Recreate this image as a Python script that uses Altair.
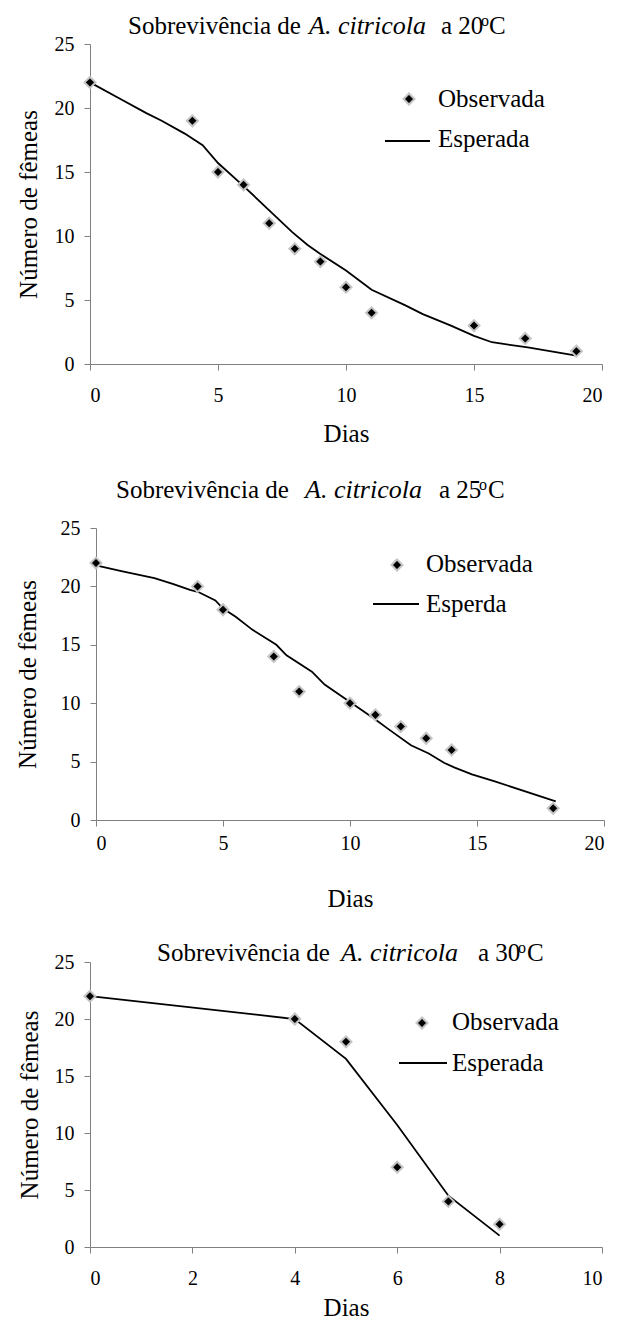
import altair as alt
import pandas as pd

FONT = "Liberation Serif"
HALO = "#c4c4c4"
AXIS_GRAY = "#808080"

# ---------------- data ----------------
# 20 °C
obs20_dias = [0, 4, 5, 6, 7, 8, 9, 10, 11, 15, 17, 19]
obs20_femeas = [22, 19, 15, 14, 11, 9, 8, 6, 4, 3, 2, 1]
esp20_dias = [0, 1.1, 2.2, 2.8, 3.7, 4.4, 5.0, 6.0, 7.0, 7.9, 8.5, 9.0, 10.0,
              11.0, 12.3, 13.0, 14.1, 15.0, 15.7, 17.1, 19.0]
esp20_femeas = [22.0, 20.8, 19.6, 19.0, 18.0, 17.1, 15.7, 13.9, 12.0, 10.3, 9.3,
                8.6, 7.3, 5.8, 4.6, 3.9, 3.0, 2.2, 1.7, 1.3, 0.65]

# 25 °C
obs25_dias = [0, 4, 5, 7, 8, 10, 11, 12, 13, 14, 18]
obs25_femeas = [22, 20, 18, 14, 11, 10, 9, 8, 7, 6, 1]
esp25_dias = [0, 1.0, 2.3, 3.05, 3.7, 4.05, 4.7, 5.0, 5.5, 6.15, 7.1, 7.5, 8.5,
              9.0, 10.0, 11.0, 11.5, 12.4, 13.1, 13.7, 14.1, 14.8, 15.7, 18.1]
esp25_femeas = [21.8, 21.3, 20.7, 20.2, 19.7, 19.5, 18.8, 18.1, 17.4, 16.3, 15.0,
                14.1, 12.7, 11.6, 10.1, 8.6, 7.8, 6.4, 5.7, 4.9, 4.5, 3.9, 3.3, 1.6]

# 30 °C
obs30_dias = [0, 4, 5, 6, 7, 8]
obs30_femeas = [22, 20, 18, 7, 4, 2]
esp30_dias = [0, 4, 5, 6, 7, 8]
esp30_femeas = [22, 20, 16.5, 10.7, 4.5, 1.0]

titles = ["a 20", "a 25", "a 30"]
esp_labels = ["Esperada", "Esperda", "Esperada"]

one = pd.DataFrame({"k": [0]})


def txt(s, x, y, size=25, style="normal"):
    return alt.Chart(one).mark_text(
        text=s, font=FONT, fontSize=size, fontStyle=style, align="left",
        baseline="alphabetic", color="black"
    ).encode(x=alt.value(x), y=alt.value(y))


def title_layers(xs, base_y, temp):
    x_sob, x_a, x_t, x_o, x_c = xs
    return [
        txt("Sobrevivência de", x_sob, base_y),
        txt("A. citricola", x_a, base_y, size=26, style="italic"),
        txt(temp, x_t, base_y),
        txt("o", x_o, base_y - 8, size=16),
        txt("C", x_c, base_y),
    ]


def legend_layers(sym, obs_t, line, esp_t, esp_label):
    s = alt.Chart(one).mark_point(
        shape="diamond", filled=True, fill="black", stroke=HALO,
        strokeWidth=2, size=120, opacity=1
    ).encode(x=alt.value(sym[0]), y=alt.value(sym[1]))
    ln = alt.Chart(one).mark_rule(color="black", strokeWidth=1.8).encode(
        x=alt.value(line[0]), x2=alt.value(line[1]), y=alt.value(line[2])
    )
    return [s, txt("Observada", obs_t[0], obs_t[1]), ln,
            txt(esp_label, esp_t[0], esp_t[1])]


def panel(od, of, ed, ef, xmax, xstep, W, H, xr0, xlab_pad, xtitle_y,
          ytitle_x, decor):
    obs = pd.DataFrame({"Dias": od, "Femeas": of})
    esp = pd.DataFrame({"Dias": ed, "Femeas": ef})
    xscale = alt.Scale(domain=[0, xmax], range=[xr0, W], nice=False, zero=False)
    yscale = alt.Scale(domain=[0, 25], nice=False)
    xaxis = alt.Axis(values=list(range(0, xmax + 1, xstep)), title="Dias",
                     labelPadding=xlab_pad, labelBaseline="middle",
                     titleY=xtitle_y, titleBaseline="middle")
    yaxis = alt.Axis(values=[0, 5, 10, 15, 20, 25], title="Número de fêmeas",
                     labelPadding=10, offset=-xr0, titleX=ytitle_x,
                     titleY=H / 2, titleAngle=270, titleAlign="center",
                     titleBaseline="middle")
    line = alt.Chart(esp).mark_line(color="black", strokeWidth=1.8).encode(
        x=alt.X("Dias:Q", scale=xscale, axis=xaxis),
        y=alt.Y("Femeas:Q", scale=yscale, axis=yaxis),
    )
    pts = alt.Chart(obs).mark_point(
        shape="diamond", filled=True, fill="black", stroke=HALO,
        strokeWidth=2, size=120, opacity=1
    ).encode(
        x=alt.X("Dias:Q", scale=xscale, axis=xaxis),
        y=alt.Y("Femeas:Q", scale=yscale, axis=yaxis),
    )
    return alt.layer(line, pts, *decor).properties(width=W, height=H)


def spacer(h):
    return alt.Chart(one).mark_point(opacity=0, size=0).encode(
        x=alt.value(0), y=alt.value(0)).properties(width=512, height=h)


anchor = alt.Chart(one).mark_point(size=1, filled=True, color="white",
                                   opacity=1).encode(
    x=alt.value(-81.5), y=alt.value(-35.5))

p1 = panel(obs20_dias, obs20_femeas, esp20_dias, esp20_femeas, 20, 5,
           512, 320, 0, 25, 69, -62,
           [anchor]
           + title_layers([38, 219, 351, 391, 399], -10, titles[0])
           + legend_layers((319, 55), (348, 63), (295, 340, 97), (348, 103),
                           esp_labels[0]))

p2 = panel(obs25_dias, obs25_femeas, esp25_dias, esp25_femeas, 20, 5,
           514, 292, 6, 17, 78, -68.5,
           title_layers([26, 215, 349, 389, 398], -30, titles[1])
           + legend_layers((307, 37), (336, 44), (283, 329, 76), (336, 84),
                           esp_labels[1]))

p3 = panel(obs30_dias, obs30_femeas, esp30_dias, esp30_femeas, 10, 2,
           512, 285, 0, 25, 60, -61,
           title_layers([67, 251, 388, 428, 437], -1, titles[2])
           + legend_layers((332, 61), (362, 68), (309, 357, 101), (362, 109),
                           esp_labels[2]))

chart = alt.vconcat(
    p1, spacer(164), p2, spacer(142), p3, spacing=0, bounds="flush"
).configure_view(
    stroke=None
).configure_axis(
    grid=False,
    domainColor=AXIS_GRAY,
    tickColor=AXIS_GRAY,
    tickSize=6,
    domainWidth=1,
    tickWidth=1,
    labelColor="black",
    labelFont=FONT,
    labelFontSize=20,
    titleColor="black",
    titleFont=FONT,
    titleFontSize=25,
    titleFontWeight="normal",
).properties(padding=0)

chart.save("out.html", embed_options={"renderer": "svg", "actions": False})
